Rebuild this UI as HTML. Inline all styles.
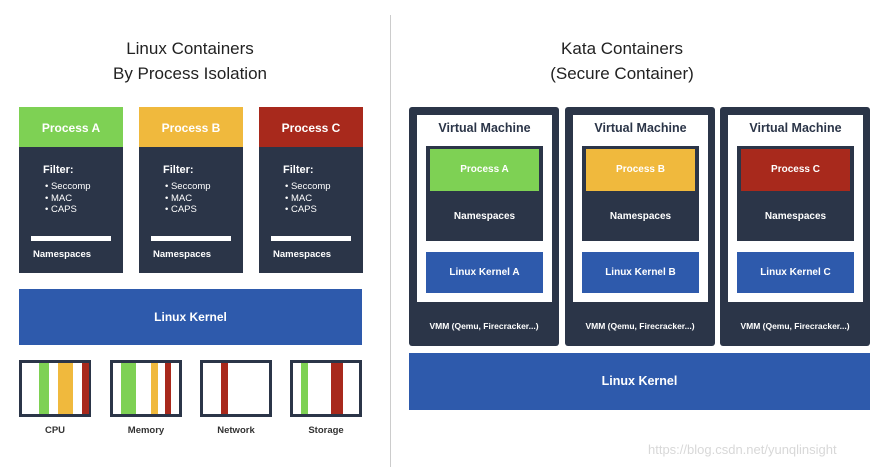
<!DOCTYPE html>
<html><head><style>
body{margin:0;width:890px;height:467px;background:#fff;position:relative;overflow:hidden;font-family:"Liberation Sans",Arial,sans-serif}
.a{position:absolute;box-sizing:border-box}
.t{position:absolute;text-align:center;font-weight:bold;color:#fff}
.dk{background:#2b3548}
</style></head><body>
<div class="a" style="left:0;top:36px;width:380px;text-align:center;font-size:17px;line-height:25px;color:#222">Linux Containers<br>By Process Isolation</div>
<div class="a" style="left:430px;top:36px;width:384px;text-align:center;font-size:17px;line-height:25px;color:#222">Kata Containers<br>(Secure Container)</div>
<div class="a" style="left:390px;top:15px;width:1px;height:452px;background:#ccc"></div>

<div id="L"></div>
<script>
var h='';
var P=[[19,'#7ed154','A'],[139,'#f0b93d','B'],[259,'#a8291c','C']];
P.forEach(function(p){var x=p[0];
h+='<div class="a dk" style="left:'+x+'px;top:107px;width:104px;height:166px"></div>';
h+='<div class="a" style="left:'+x+'px;top:107px;width:104px;height:40px;background:'+p[1]+'"></div>';
h+='<div class="t" style="left:'+x+'px;top:121px;width:104px;font-size:12px">Process '+p[2]+'</div>';
h+='<div class="t" style="left:'+(x+24)+'px;top:164px;font-size:11px;text-align:left">Filter:</div>';
h+='<div class="t" style="left:'+(x+26)+'px;top:181px;font-size:9.5px;line-height:11.5px;text-align:left;font-weight:normal">•&nbsp;Seccomp<br>•&nbsp;MAC<br>•&nbsp;CAPS</div>';
h+='<div class="a" style="left:'+(x+12)+'px;top:236px;width:80px;height:5px;background:#fff"></div>';
h+='<div class="t" style="left:'+(x+14)+'px;top:249px;font-size:9.5px;text-align:left">Namespaces</div>';
});
h+='<div class="a" style="left:19px;top:289px;width:343px;height:56px;background:#2e5aac"></div><div class="t" style="left:19px;top:310px;width:343px;font-size:12px">Linux Kernel</div>';
var R=[[19,'CPU',[[39,10,'#7ed154'],[58,15,'#f0b93d'],[82,7,'#a8291c']]],[110,'Memory',[[121,15,'#7ed154'],[151,7,'#f0b93d'],[165,6,'#a8291c']]],[200,'Network',[[221,7,'#a8291c']]],[290,'Storage',[[301,7,'#7ed154'],[331,12,'#a8291c']]]];
R.forEach(function(r){
h+='<div class="a" style="left:'+r[0]+'px;top:360px;width:72px;height:57px;border:3px solid #2b3548;background:#fff"></div>';
r[2].forEach(function(s){h+='<div class="a" style="left:'+s[0]+'px;top:363px;width:'+s[1]+'px;height:51px;background:'+s[2]+'"></div>';});
h+='<div class="t" style="left:'+r[0]+'px;top:425px;width:72px;font-size:9.5px;color:#333">'+r[1]+'</div>';
});
var V=[[409,'#7ed154','A'],[565,'#f0b93d','B'],[720,'#a8291c','C']];
V.forEach(function(v){var x=v[0];
h+='<div class="a dk" style="left:'+x+'px;top:107px;width:150px;height:239px;border-radius:3px"></div>';
h+='<div class="a" style="left:'+(x+8)+'px;top:115px;width:135px;height:187px;background:#fff"></div>';
h+='<div class="t" style="left:'+(x+8)+'px;top:121px;width:135px;font-size:12.5px;color:#2b3548">Virtual Machine</div>';
h+='<div class="a dk" style="left:'+(x+17)+'px;top:146px;width:117px;height:95px"></div>';
h+='<div class="a" style="left:'+(x+21)+'px;top:149px;width:109px;height:42px;background:'+v[1]+'"></div>';
h+='<div class="t" style="left:'+(x+17)+'px;top:164px;width:117px;font-size:10px">Process '+v[2]+'</div>';
h+='<div class="t" style="left:'+(x+17)+'px;top:211px;width:117px;font-size:10px">Namespaces</div>';
h+='<div class="a" style="left:'+(x+17)+'px;top:252px;width:117px;height:41px;background:#2e5aac"></div>';
h+='<div class="t" style="left:'+(x+17)+'px;top:267px;width:117px;font-size:10px">Linux Kernel '+v[2]+'</div>';
h+='<div class="t" style="left:'+x+'px;top:321px;width:150px;font-size:8.5px;white-space:nowrap;overflow:hidden">VMM (Qemu, Firecracker...)</div>';
});
h+='<div class="a" style="left:409px;top:353px;width:461px;height:57px;background:#2e5aac"></div><div class="t" style="left:409px;top:374px;width:461px;font-size:12.5px">Linux Kernel</div>';
h+='<div class="a" style="left:648px;top:442px;font-size:13px;color:#d8d8d8">https://blog.csdn.net/yunqlinsight</div>';
document.getElementById('L').innerHTML=h;
</script>
</body></html>
